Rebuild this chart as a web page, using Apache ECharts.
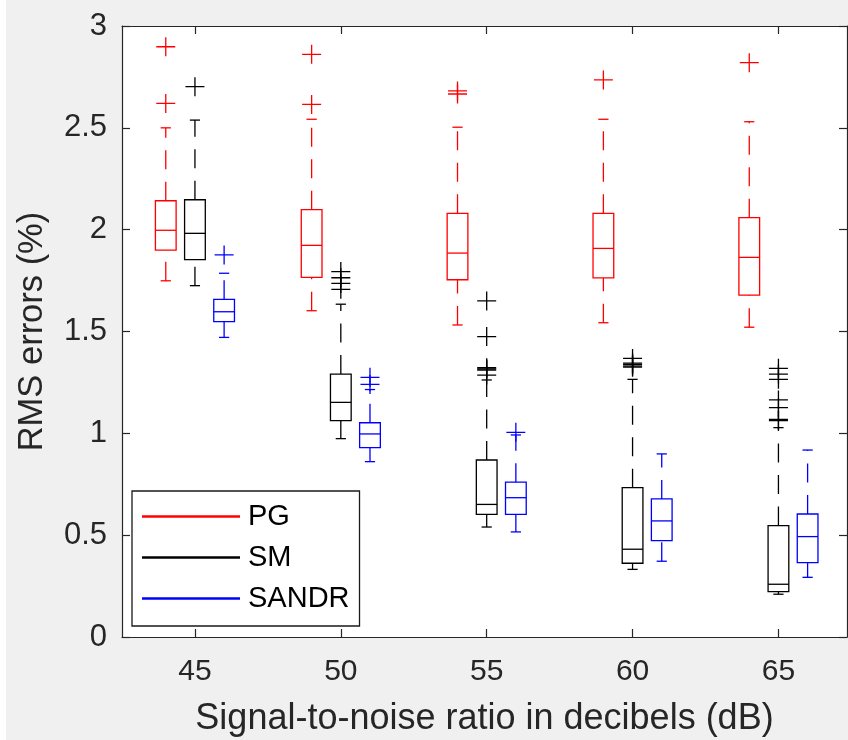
<!DOCTYPE html>
<html>
<head>
<meta charset="utf-8">
<script src="https://cdn.jsdelivr.net/npm/echarts@6/dist/echarts.min.js"></script>
<style>html,body{margin:0;padding:0;background:#f0f0f0}#c{width:848px;height:740px}</style>
</head>
<body>
<div id="c"></div>
<script>
// ---- data ----
const snr = [45, 50, 55, 60, 65];
const yTicks = [0, 0.5, 1, 1.5, 2, 2.5, 3];
const methods = ['PG', 'SM', 'SANDR'];
// each entry: [lower whisker, Q1, median, Q3, upper whisker]
const pgBox = [
  [1.749, 1.900, 1.997, 2.142, 2.500],
  [1.602, 1.766, 1.923, 2.098, 2.542],
  [1.532, 1.754, 1.885, 2.080, 2.503],
  [1.543, 1.763, 1.908, 2.080, 2.542],
  [1.521, 1.679, 1.864, 2.059, 2.530]
];
const smBox = [
  [1.725, 1.853, 1.982, 2.147, 2.538],
  [0.974, 1.062, 1.152, 1.291, 1.634],
  [0.540, 0.602, 0.651, 0.869, 1.262],
  [0.332, 0.362, 0.431, 0.733, 1.265],
  [0.210, 0.223, 0.259, 0.547, 1.028]
];
const sandrBox = [
  [1.471, 1.548, 1.597, 1.658, 1.786],
  [0.861, 0.930, 0.997, 1.052, 1.215],
  [0.516, 0.602, 0.684, 0.760, 0.992],
  [0.372, 0.473, 0.570, 0.678, 0.899],
  [0.293, 0.365, 0.493, 0.604, 0.918]
];
const pgOut = [[2.898, 2.620], [2.861, 2.615], [2.681, 2.666], [2.735], [2.820]];
const smOut = [[2.702], [1.794, 1.764, 1.736, 1.707], [1.650, 1.475, 1.322, 1.316, 1.311, 1.286],
               [1.368, 1.345, 1.338, 1.330, 1.325], [1.319, 1.291, 1.265, 1.164, 1.126, 1.068, 1.063]];
const sandrOut = [[1.876], [1.275, 1.240], [1.005], [], []];

// ---- style ----
const FONT = 'Liberation Sans, Arial, Helvetica, sans-serif';
const AX = '#262626';
const cfg = [
  { name: 'PG', box: pgBox, out: pgOut, color: '#ff0000', offset: -1 },
  { name: 'SM', box: smBox, out: smOut, color: '#000000', offset: 0 },
  { name: 'SANDR', box: sandrBox, out: sandrOut, color: '#0000ff', offset: 1 }
];
const BOX_W = 0.71, CAP_W = 0.35, LW = 1.3;

function makeRender(color) {
  return function (params, api) {
    const x = api.value(0);
    const ys = [1, 2, 3, 4, 5].map(d => api.coord([x, api.value(d)])[1]);
    const cx = api.coord([x, api.value(1)])[0];
    const unit = api.size([1, 0])[0];
    const hb = BOX_W * unit / 2, hc = CAP_W * unit / 2;
    const solid = { stroke: color, lineWidth: LW, fill: null };
    const dashed = { stroke: color, lineWidth: LW, lineDash: [19, 12.5], fill: null };
    return {
      type: 'group',
      children: [
        { type: 'line', shape: { x1: cx, y1: ys[0], x2: cx, y2: ys[1] }, style: dashed },
        { type: 'line', shape: { x1: cx, y1: ys[3], x2: cx, y2: ys[4] }, style: dashed },
        { type: 'line', shape: { x1: cx - hc, y1: ys[0], x2: cx + hc, y2: ys[0] }, style: solid },
        { type: 'line', shape: { x1: cx - hc, y1: ys[4], x2: cx + hc, y2: ys[4] }, style: solid },
        { type: 'rect', shape: { x: cx - hb, y: ys[3], width: 2 * hb, height: ys[1] - ys[3] }, style: solid },
        { type: 'line', shape: { x1: cx - hb, y1: ys[2], x2: cx + hb, y2: ys[2] }, style: solid }
      ]
    };
  };
}

const series = [];
cfg.forEach(m => {
  series.push({
    name: m.name,
    type: 'custom',
    itemStyle: { color: m.color },
    renderItem: makeRender(m.color),
    encode: { x: 0, y: [1, 2, 3, 4, 5] },
    data: snr.map((s, i) => [s + m.offset].concat(m.box[i])),
    z: 3
  });
});
cfg.forEach(m => {
  const pts = [];
  snr.forEach((s, i) => m.out[i].forEach(v => pts.push([s + m.offset, v])));
  series.push({
    name: m.name + ' outliers',
    type: 'scatter',
    symbol: 'path://M10,0L10,20M0,10L20,10',
    symbolSize: 19,
    itemStyle: { color: 'transparent', borderColor: m.color, borderWidth: LW, opacity: 1 },
    data: pts,
    z: 4
  });
});

const axisLineStyle = { color: AX, width: 1.2 };
const chart = echarts.init(document.getElementById('c'), null, { renderer: 'canvas' });
chart.setOption({
  backgroundColor: '#f0f0f0',
  animation: false,
  graphic: [{ type: 'rect', left: 0, top: 0, shape: { width: 6, height: 740 }, style: { fill: '#ffffff' }, silent: true }],
  grid: { left: 122, right: 1, top: 26, bottom: 103, show: true, backgroundColor: '#ffffff', borderWidth: 0,
          containLabel: false, outerBoundsMode: 'none' },
  legend: {
    left: 132, top: 491, orient: 'vertical',
    data: methods.map(n => ({ name: n })),
    icon: 'rect', itemWidth: 98, itemHeight: 2.5, itemGap: 12,
    padding: [11, 10, 13, 10],
    backgroundColor: '#ffffff', borderColor: '#1a1a1a', borderWidth: 1.3, borderRadius: 0,
    selectedMode: false,
    textStyle: { fontSize: 29, lineHeight: 28, color: '#000', fontFamily: FONT, padding: [0, 0, 0, 3] }
  },
  xAxis: [
    {
      type: 'value', min: 42.5, max: 67.35, position: 'bottom',
      axisLine: { show: true, onZero: false, lineStyle: axisLineStyle },
      axisTick: { show: true, inside: true, length: 8, customValues: snr, lineStyle: axisLineStyle },
      axisLabel: { customValues: snr, fontSize: 30, color: AX, margin: 20, fontFamily: FONT },
      splitLine: { show: false },
      name: 'Signal-to-noise ratio in decibels (dB)', nameLocation: 'middle', nameGap: 64,
      nameTextStyle: { fontSize: 36, color: AX, fontFamily: FONT }
    },
    {
      type: 'value', min: 42.5, max: 67.35, position: 'top',
      axisLine: { show: true, onZero: false, lineStyle: axisLineStyle },
      axisTick: { show: true, inside: true, length: 8, customValues: snr, lineStyle: axisLineStyle },
      axisLabel: { show: false, customValues: snr },
      splitLine: { show: false }
    }
  ],
  yAxis: [
    {
      type: 'value', min: 0, max: 3, interval: 0.5, position: 'left',
      axisLine: { show: true, onZero: false, lineStyle: axisLineStyle },
      axisTick: { show: true, inside: true, length: 8, lineStyle: axisLineStyle },
      axisLabel: { fontSize: 31, color: AX, margin: 15, fontFamily: FONT },
      splitLine: { show: false },
      name: 'RMS errors (%)', nameLocation: 'middle', nameRotate: 90, nameGap: 72,
      nameTextStyle: { fontSize: 34.5, color: AX, fontFamily: FONT }
    },
    {
      type: 'value', min: 0, max: 3, interval: 0.5, position: 'right',
      axisLine: { show: true, onZero: false, lineStyle: axisLineStyle },
      axisTick: { show: true, inside: true, length: 8, lineStyle: axisLineStyle },
      axisLabel: { show: false },
      splitLine: { show: false }
    }
  ],
  series: series
});
</script>
</body>
</html>
